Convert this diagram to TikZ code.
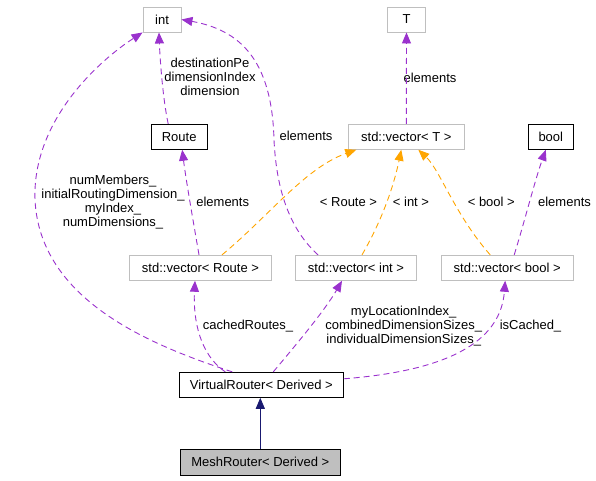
\documentclass[tikz,border=0pt]{standalone}
\usepackage{fontspec}
\setmainfont{Liberation Sans}
\usepackage{tikz}
\usetikzlibrary{calc}
\usetikzlibrary{positioning}
\usetikzlibrary{arrows.meta}
\definecolor{edgepurple}{HTML}{9A32CD}
\definecolor{edgeorange}{HTML}{FFA500}
\definecolor{edgenavy}{HTML}{191970}
\definecolor{boxgrey}{HTML}{BFBFBF}

\begin{document}
\begin{tikzpicture}[x=1pt,y=-1pt,>={Triangle[length=11pt,width=9pt]},line width=0.9pt,
	  every node/.style={font=\fontsize{13}{14}\selectfont, align=center},
	  ext node/.style={draw=boxgrey, minimum height=25pt, inner sep=0pt},
	  cls node/.style={draw=black, minimum height=25pt, inner sep=0pt},
	  member edge/.style={->, draw=edgepurple, dash pattern=on 6pt off 4pt},
	  tmpl edge/.style={->, draw=edgeorange, dash pattern=on 6pt off 4pt},
	  base edge/.style={->, draw=edgenavy}]
	\useasboundingbox (0,0) rectangle (596,480);

	  \node[ext node, minimum width=38pt] (int) at (162,19.5) {int};
	  \node[ext node, minimum width=37.5pt] (T) at (406.5,19.5) {T};
	  \node[cls node, minimum width=56pt] (route) at (179.2,136.8) {Route};
	  \node[ext node, minimum width=116pt] (vT) at ($ (T) + (-0.2,117.3) $) {std::vector< T >};
	  \node[cls node, minimum width=45pt] (bool) at (550.8,136.8) {bool};
	  \node[ext node, minimum width=142pt] (vRoute) at (200.5,267.8) {std::vector< Route >};
	  \node[ext node, minimum width=121pt] (vInt) at (356,267.8) {std::vector< int >};
	  \node[ext node, minimum width=132pt] (vBool) at (507.2,267.8) {std::vector< bool >};
	  \node[cls node, minimum width=164pt] (vr) at (261.3,384.8) {VirtualRouter< Derived >};
	  \node[cls node, minimum width=160pt, minimum height=26pt, fill=boxgrey] (mesh) at ($ (vr) + (-1,77.5) $) {MeshRouter< Derived >};

	  % edge labels
	  \node (lblRouteInt) at (210,77) {destinationPe\\dimensionIndex\\dimension};
	  \node (lblVrInt) at (113,202.5) {numMembers\_\\initialRoutingDimension\_\\myIndex\_\\numDimensions\_};
	  \node (lblVIntInt) at (306,136) {elements};
	  \node (lblVTT) at (430,78) {elements};
	  \node (lblVRouteRoute) at (222.7,202) {elements};
	  \node (lblRouteT) at (348.5,202) {< Route >};
	  \node (lblIntT) at (411,202) {< int >};
	  \node (lblBoolT) at (491.3,202) {< bool >};
	  \node (lblVBoolBool) at (564.5,202) {elements};
	  \node (lblVrVRoute) at (248,326) {cachedRoutes\_};
	  \node (lblVrVInt) at (403.7,326) {myLocationIndex\_\\combinedDimensionSizes\_\\individualDimensionSizes\_};
	  \node (lblVrVBool) at (530.5,326) {isCached\_};

	  % members
	  \draw[member edge] ($ (vr.north) + (-29,0) $) .. controls (150,345) and (40,300) .. (35,200)
	    .. controls (32,120) and (100,60) .. (int.south west);
	  \draw[member edge] ($ (route.north) + (-11,0) $) .. controls (163,100) and (160,60) .. ($ (int.south) + (-3,0) $);
	  \draw[member edge] ($ (vInt.north) + (-38,0) $) .. controls (285,225) and (276,180) .. (274,140)
	    .. controls (272,60) and (240,30) .. (int.east);
	  \draw[member edge] (vT.north) -- (T.south);
	  \draw[member edge] ($ (vRoute.north) + (-1.5,0) $) .. controls (193,220) and (186,180) .. ($ (route.south) + (3,0) $);
	  \draw[member edge] ($ (vBool.north) + (7,0) $) .. controls (525,220) and (535,180) .. ($ (bool.south) + (-5,0) $);
	  \draw[member edge] ($ (vr.north) + (-36,0) $) .. controls (200,355) and (193,320) .. ($ (vRoute.south) + (-5.5,0) $);
	  \draw[member edge] ($ (vr.north) + (12,0) $) .. controls (300,340) and (325,310) .. ($ (vInt.south) + (-14,0) $);
	  \draw[member edge] ($ (vr.east) + (0,-6) $) .. controls (430,372) and (500,350) .. ($ (vBool.south) + (-2,0) $);

	  % template instances
	  \draw[tmpl edge] ($ (vRoute.north) + (21.5,0) $) .. controls (270,215) and (305,168) .. ($ (vT.south) + (-50,0) $);
	  \draw[tmpl edge] ($ (vInt.north) + (6,0) $) .. controls (385,215) and (395,180) .. ($ (vT.south) + (-5,0) $);
	  \draw[tmpl edge] ($ (vBool.north) + (-17,0) $) .. controls (455,215) and (440,170) .. ($ (vT.south) + (12,0) $);

	  % inheritance
	  \draw[base edge] (mesh.north) -- (mesh.north |- vr.south);
\end{tikzpicture}
\end{document}
